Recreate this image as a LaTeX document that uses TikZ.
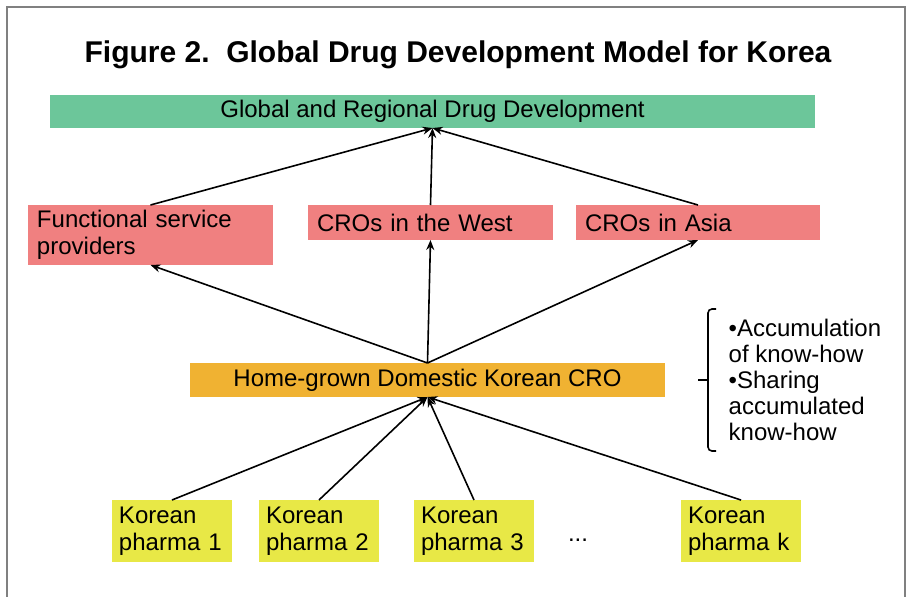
\documentclass[tikz,border=0pt]{standalone}
\usepackage{fontspec}
\setsansfont{Liberation Sans}
\usetikzlibrary{arrows.meta}

\definecolor{globgreen}{RGB}{108,198,154}
\definecolor{croired}{RGB}{240,128,128}
\definecolor{homeorange}{RGB}{240,178,50}
\definecolor{pharmayellow}{RGB}{232,232,70}

\begin{document}
\begin{tikzpicture}[x=0.5pt, y=-0.5pt, font=\sffamily\fontsize{12}{13.5}\selectfont,
    every node/.style={outer sep=0pt, inner ysep=0pt},
    tierbox/.style={anchor=north west, inner xsep=4.5pt},
    pharmabox/.style={tierbox, fill=pharmayellow, inner xsep=3.5pt, text width=53pt, minimum height=31pt, align=left},
    link/.style={-{Stealth[length=5pt,width=4pt]}, line width=0.8pt}]
    \useasboundingbox (0,0) rectangle (907,596);
    \draw[line width=1pt, black!50] (7,600) -- (7,7) -- (905,7) -- (905,600);

    \node[anchor=base, font=\sffamily\bfseries\fontsize{15}{18}\selectfont] (title) at (458,62) {Figure 2.\ \ Global Drug Development Model for Korea};

    % top level
    \node[tierbox, fill=globgreen, minimum width=382.5pt, minimum height=16.5pt] (glob) at (50,95) {Global and Regional Drug Development};

    % providers
    \node[tierbox, fill=croired, text width=113.5pt, minimum height=30pt, align=left] (fsp) at (28,205) {Functional service\\providers};
    \node[tierbox, fill=croired, text width=113.5pt, minimum height=17.5pt, align=left] (west) at (308,205) {CROs in the West};
    \node[tierbox, fill=croired, text width=113pt, minimum height=17.5pt, align=left] (asia) at (576,205) {CROs in Asia};

    % domestic CRO
    \node[tierbox, fill=homeorange, minimum width=237.5pt, minimum height=17pt] (cro) at (190,363) {Home-grown Domestic Korean CRO};

    % pharma companies
    \node[pharmabox] (ph1) at (112,500) {Korean\\pharma 1};
    \node[pharmabox] (ph2) at (259,500) {Korean\\pharma 2};
    \node[pharmabox] (ph3) at (414,500) {Korean\\pharma 3};
    \node[anchor=base] (more) at (578,541) {...};
    \node[pharmabox] (phk) at (681,500) {Korean\\pharma k};

    \draw[link] (fsp.north) -- (glob.south);
    \draw[link] (west.north) -- (glob.south);
    \draw[link] (asia.north) -- (glob.south);

    \draw[link] (cro.north) -- (fsp.south);
    \draw[link] (cro.north) -- (west.south);
    \draw[link] (cro.north) -- (asia.south);

    \draw[link] (ph1.north) -- (cro.south);
    \draw[link] (ph2.north) -- (cro.south);
    \draw[link] (ph3.north) -- (cro.south);
    \draw[link] (phk.north) -- (cro.south);

    % know-how bracket
    \node[anchor=west, align=left, font=\sffamily\fontsize{12}{13.1}\selectfont] (note) at (722,380) {\textbullet Accumulation\\of know-how\\\textbullet Sharing\\accumulated\\know-how};
    \draw[line width=0.8pt, rounded corners=2pt] (716,309) -- (708,309) -- (708,451) -- (716,451);
    \draw[line width=0.8pt] (698,380) -- (708,380);
\end{tikzpicture}
\end{document}
